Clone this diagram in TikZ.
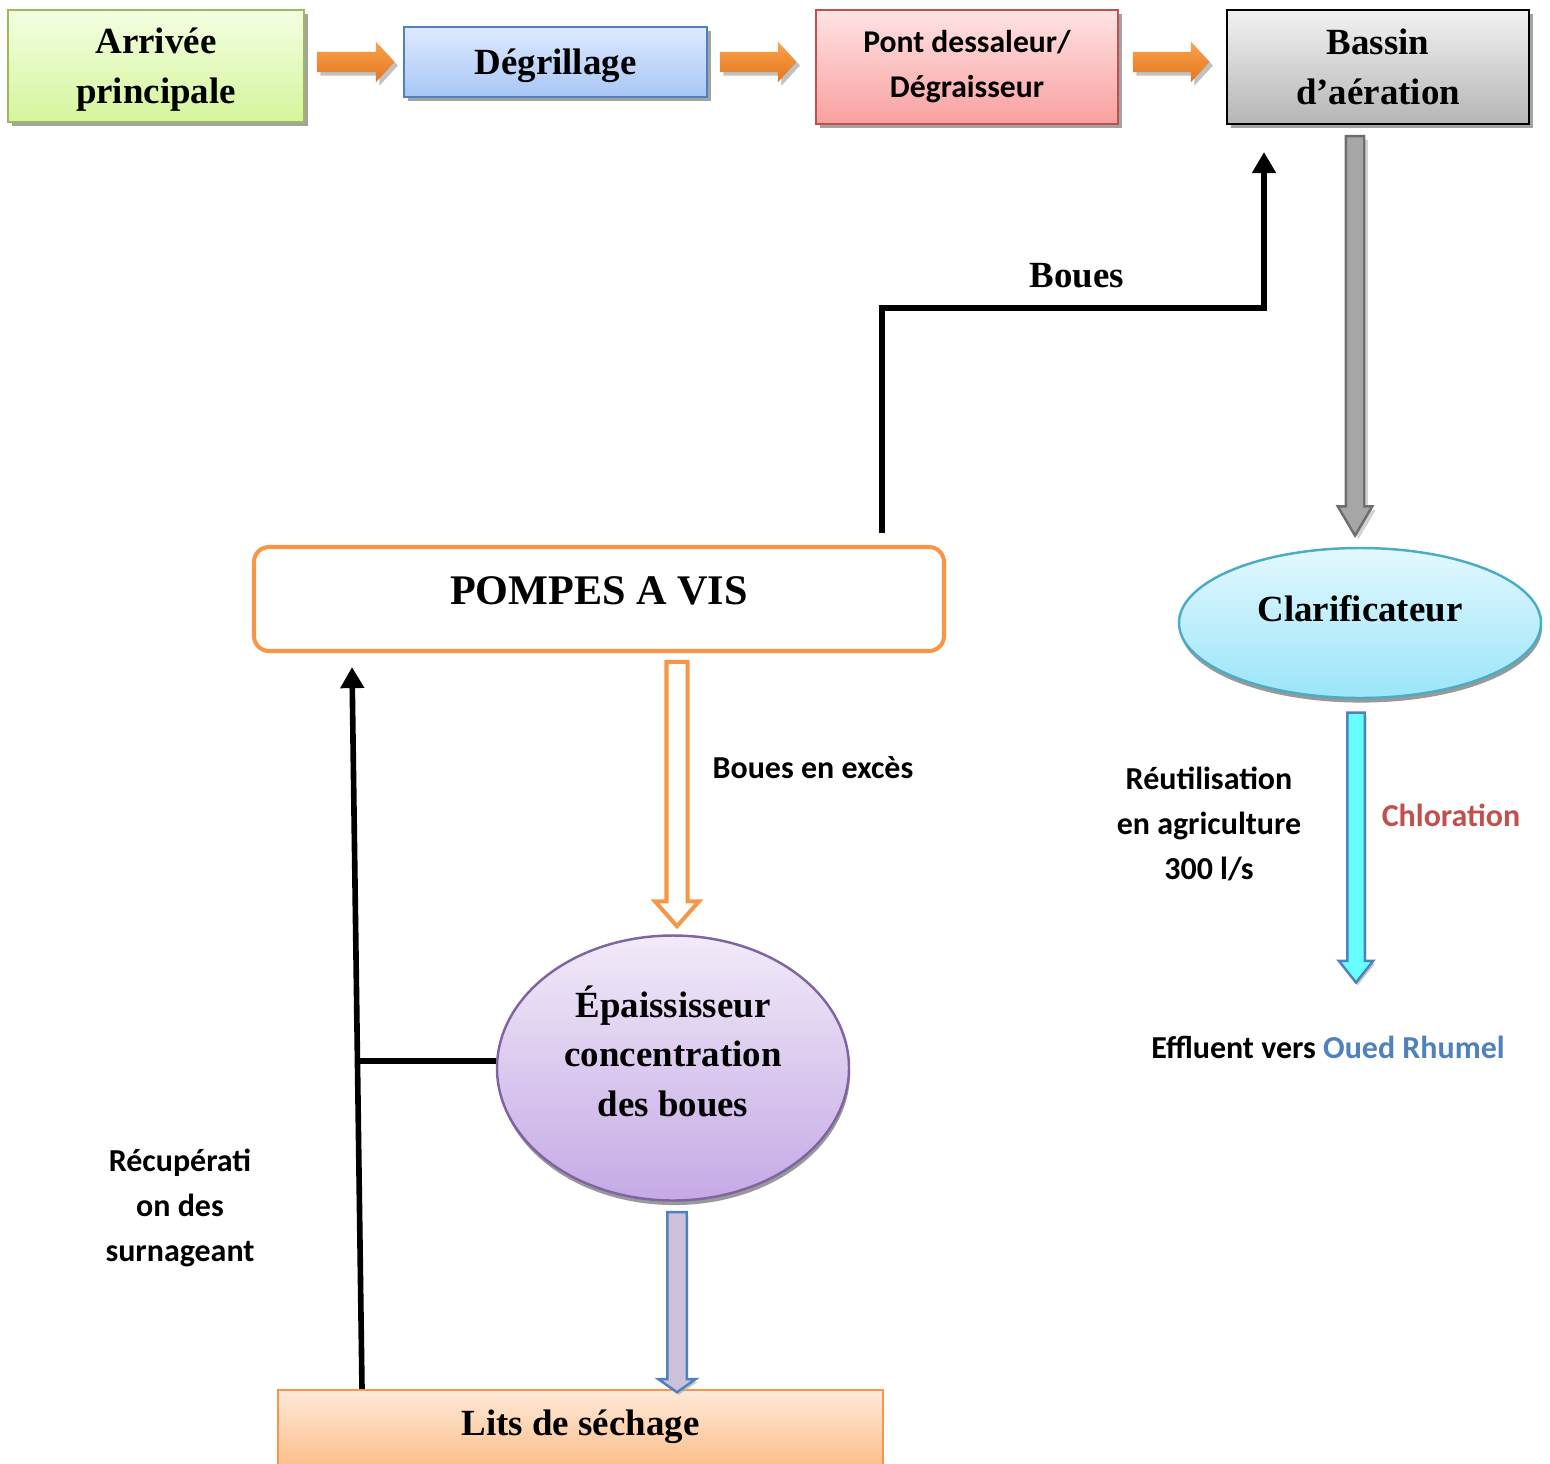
\documentclass[tikz,border=0pt]{standalone}
\usepackage{fontspec}
\setmainfont{Liberation Serif}
\newfontfamily\calib{Carlito}
\usepackage{xcolor}
\usetikzlibrary{arrows.meta, positioning, calc, shapes.geometric, shapes.arrows, shadows}
\definecolor{ink}{HTML}{000000}
\definecolor{cgreenT}{HTML}{F3FFE2}
\definecolor{cgreenB}{HTML}{D5F59C}
\definecolor{cgreenD}{HTML}{9BBB59}
\definecolor{cblueT}{HTML}{DFEAFF}
\definecolor{cblueB}{HTML}{A7C6F5}
\definecolor{cblueD}{HTML}{4F81BD}
\definecolor{credT}{HTML}{FFE3E3}
\definecolor{credB}{HTML}{F8A0A0}
\definecolor{credD}{HTML}{C0504D}
\definecolor{cgreyT}{HTML}{F2F2F2}
\definecolor{cgreyB}{HTML}{B5B5B5}
\definecolor{ccyanT}{HTML}{E3F8FE}
\definecolor{ccyanB}{HTML}{9BE5FA}
\definecolor{ccyanD}{HTML}{4BACC6}
\definecolor{cpurT}{HTML}{F1EBF9}
\definecolor{cpurB}{HTML}{C5A9E5}
\definecolor{cpurD}{HTML}{8064A2}
\definecolor{corT}{HTML}{FFE9D9}
\definecolor{corB}{HTML}{FBBD86}
\definecolor{corange}{HTML}{F79646}
\definecolor{carrT}{HTML}{FAA24E}
\definecolor{carrB}{HTML}{E4761C}
\definecolor{cshaft}{HTML}{66FFFF}
\definecolor{clav}{HTML}{CCC0DA}
\definecolor{cgrayA}{HTML}{A6A6A6}
\definecolor{cgrayD}{HTML}{6E6E6E}
\newcommand{\serifb}{\bfseries\fontsize{10.5}{14.2}\selectfont}
\newcommand{\sansb}{\calib\bfseries\fontsize{9.1}{12.8}\selectfont}
% block arrow as a single arrow node stretched between two points
\newcommand{\blockarrow}[3]{%
  \path let \p1=(#2), \p2=(#3),
    \n1={atan2(\y2-\y1,\x2-\x1)}, \n2={veclen(\x2-\x1,\y2-\y1)}
  in ($(\p1)!0.5!(\p2)$) node[#1, minimum height=\n2, rotate=\n1] {};}
\tikzset{
  box/.style={draw, rectangle, line width=0.7pt, inner sep=2pt, align=center, font=\serifb},
  boxshadow/.style={drop shadow={shadow xshift=1pt, shadow yshift=-1pt, fill=black!45, opacity=0.8}},
  ovalshadow/.style={drop shadow={shadow xshift=0.3pt, shadow yshift=-1.3pt, fill=black!50, opacity=0.8}},
  oval/.style={ellipse, draw, line width=0.7pt, inner sep=0pt, align=center, font=\serifb},
  lbl/.style={inner sep=0pt, align=center, font=\sansb},
  flow/.style={draw=ink, line width=1.6pt, -{Triangle[width=6.5pt,length=6pt]}},
  barrow/.style={single arrow, inner xsep=0pt, minimum width=0pt, anchor=center, line join=miter},
  toparrow/.style={barrow, inner ysep=0.095cm, single arrow head extend=0.1cm, single arrow tip angle=95,
    top color=carrT, bottom color=carrB, drop shadow={shadow xshift=1pt, shadow yshift=-1pt, fill=black!35, opacity=0.7}},
  grayarrow/.style={barrow, inner ysep=0.08cm, single arrow head extend=0.08cm, single arrow tip angle=61,
    draw=cgrayD, line width=0.7pt, fill=cgrayA, drop shadow={shadow xshift=1pt, shadow yshift=-1pt, fill=black!25, opacity=0.7}},
  excessarrow/.style={barrow, inner ysep=0.085cm, single arrow head extend=0.115cm, single arrow tip angle=83,
    draw=corange, line width=1.15pt, fill=white},
  cyanarrow/.style={barrow, inner ysep=0.075cm, single arrow head extend=0.085cm, single arrow tip angle=77,
    draw=cblueD, line width=0.7pt, fill=cshaft, drop shadow={shadow xshift=0.5pt, shadow yshift=-0.8pt, fill=black!30, opacity=0.7}},
  lavarrow/.style={barrow, inner ysep=0.085cm, single arrow head extend=0.09cm, single arrow tip angle=110,
    draw=cblueD, line width=0.7pt, fill=clav, drop shadow={shadow xshift=0.5pt, shadow yshift=-0.8pt, fill=black!30, opacity=0.7}}
}
\begin{document}
\begin{tikzpicture}[font=\small]
  \useasboundingbox (0,0) rectangle (15.5,-14.63);
  % top row of the treatment line
  \node[box, boxshadow, draw=cgreenD, top color=cgreenT, bottom color=cgreenB, text depth=0pt,
        minimum width=2.96cm, minimum height=1.12cm] (arr) at (1.56,-0.66) {Arrivée\\principale};
  \node[box, boxshadow, draw=cblueD, top color=cblueT, bottom color=cblueB, text depth=0pt,
        minimum width=3.03cm, minimum height=0.70cm] (deg) at (5.555,-0.62) {Dégrillage};
  \node[box, boxshadow, draw=credD, top color=credT, bottom color=credB, font=\calib\bfseries\fontsize{9}{12.8}\selectfont,
        minimum width=3.02cm, minimum height=1.14cm] (pont) at (9.67,-0.67) {Pont dessaleur/\\Dégraisseur};
  \node[box, boxshadow, draw=ink, top color=cgreyT, bottom color=cgreyB,
        minimum width=3.02cm, minimum height=1.14cm] (bassin) at (13.78,-0.67) {Bassin\\d’aération};
  \foreach \a/\b/\s/\e in {arr/deg/0.07/-0.13, deg/pont/0.07/-0.23, pont/bassin/0.09/-0.21}{
    \blockarrow{toparrow}{$(\a.east |- deg.east)+(\s,0)$}{$(\b.west |- deg.east)+(\e,0)$}
  }
  % sludge side
  \node[draw=corange, line width=1.15pt, rounded corners=0.15cm, minimum width=6.9cm, minimum height=1.04cm,
        font=\bfseries\fontsize{12}{14}\selectfont, text depth=5pt] (pompes) at (5.99,-5.99) {POMPES A VIS};
  \node[oval, ovalshadow, draw=cpurD, top color=cpurT, bottom color=cpurB, text depth=9.6pt,
        minimum width=3.52cm, minimum height=2.65cm] (epais) at (6.73,-10.68) {Épaississeur\\concentration\\des boues};
  \node[box, draw=corange, top color=corT, bottom color=corB, text depth=4pt,
        minimum width=6.05cm, minimum height=0.8cm] (lits) at (5.805,-14.30) {Lits de séchage};
  % water side
  \node[oval, ovalshadow, draw=ccyanD, top color=ccyanT, bottom color=ccyanB, text depth=8pt,
        minimum width=3.62cm, minimum height=1.50cm] (clar) at (13.60,-6.23) {Clarificateur};
  % labels
  \node[font=\serifb, inner sep=0pt] (boues) at (10.77,-2.76) {Boues};
  \node[lbl] (excess) at (8.13,-7.68) {Boues en excès};
  \node[lbl] (reuse) at (12.09,-8.24) {Réutilisation\\en agriculture\\300 l/s};
  \node[lbl, text=credD] (chlor) at (14.51,-8.15) {Chloration};
  \node[lbl] (effl) at (13.28,-10.47) {Effluent vers \textcolor{cblueD}{Oued Rhumel}};
  \node[lbl] (recup) at (1.80,-12.08) {Récupérati\\on des\\surnageant};
  % return of sludge to the aeration basin
  \coordinate (bouesA) at (8.82,-5.33);
  \coordinate (bouesB) at (12.64,-1.52);
  \draw[flow] (bouesA) -- ++(0,2.25) -| (bouesB);
  % supernatant back to the pumps
  \coordinate (recA) at ($(lits.north)+(-2.185,0)$);
  \coordinate (recB) at ($(pompes.south)+(-2.47,-0.14)$);
  \coordinate (recJ) at ($(recA)!0.45!(recB)$);
  \draw[flow] (recA) -- (recB);
  \draw[draw=ink, line width=1.6pt] ([yshift=0.07cm]epais.west) -- ([yshift=0.07cm]epais.west -| recJ);
  % block arrows
  \blockarrow{grayarrow}{$(bassin.south)+(-0.23,-0.03)$}{$(clar.north)+(-0.05,0.19)$}
  \coordinate (efflTip) at (13.56,-9.77);
  \blockarrow{cyanarrow}{$(clar.south)+(-0.04,-0.08)$}{efflTip}
  \blockarrow{excessarrow}{$(pompes.south)+(0.78,-0.03)$}{$(epais.north)+(0.04,0.14)$}
  \blockarrow{lavarrow}{$(epais.south)+(0.04,-0.07)$}{$(epais.south |- lits.north)+(0.04,0)$}
\end{tikzpicture}
\end{document}
